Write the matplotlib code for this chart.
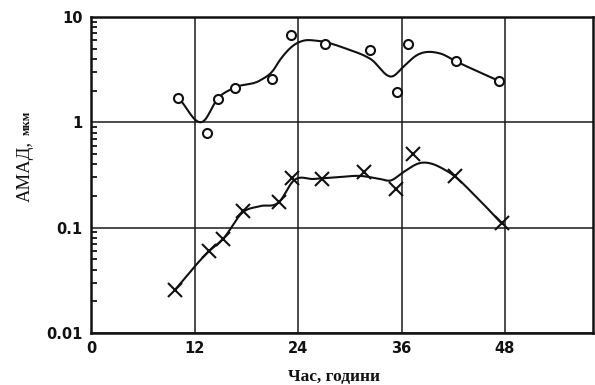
import numpy as np
import matplotlib
matplotlib.use("Agg")
import matplotlib.pyplot as plt
from matplotlib.ticker import FixedLocator, LogLocator, NullFormatter

# measured points: open circles (upper series) and crosses (lower series)
circle_hours = [10.1, 13.4, 14.7, 16.7, 21.0, 23.2, 27.1, 32.3, 35.5, 36.7, 42.3, 47.3]
circle_amad = [1.72, 0.80, 1.68, 2.14, 2.57, 6.8, 5.57, 4.9, 1.94, 5.6, 3.8, 2.47]

cross_hours = [9.7, 13.7, 15.3, 17.6, 21.8, 23.3, 26.8, 31.6, 35.4, 37.3, 42.2, 47.6]
cross_amad = [0.0255, 0.060, 0.078, 0.145, 0.175, 0.297, 0.29, 0.336, 0.233, 0.50, 0.31, 0.11]

# hand-drawn trend lines through each series
trend1_hours = [10.1, 13.0, 14.7, 16.7, 19.6, 21.1, 21.9, 23.65, 24.6, 26.2, 29.6, 32.4, 35.0, 36.2, 37.8, 40.5, 42.3, 47.3]
trend1_amad = [1.72, 1.02, 1.68, 2.14, 2.5, 3.1, 3.9, 5.5, 5.95, 5.95, 5.0, 4.0, 2.74, 3.36, 4.35, 4.5, 3.8, 2.47]

trend2_hours = [9.7, 13.7, 15.3, 17.6, 19.6, 21.8, 23.5, 25.8, 28.5, 31.2, 33.5, 34.7, 36.2, 38.1, 41.4, 45.1, 47.6]
trend2_amad = [0.0255, 0.060, 0.078, 0.14, 0.16, 0.175, 0.28, 0.29, 0.30, 0.31, 0.29, 0.28, 0.336, 0.41, 0.34, 0.18, 0.11]

hour_ticks = [0, 12, 24, 36, 48]
amad_ticks = [0.01, 0.1, 1, 10]
amad_labels = ["0.01", "0.1", "1", "10"]


def smooth(xs, ys, n=20):
    # Catmull-Rom style cubic through the knots, done in log space
    x = np.asarray(xs, float)
    y = np.log10(np.asarray(ys, float))
    m = np.gradient(y, x)
    out_x, out_y = [], []
    for i in range(len(x) - 1):
        h = x[i + 1] - x[i]
        t = np.linspace(0, 1, n, endpoint=False)
        h00 = 2 * t**3 - 3 * t**2 + 1
        h10 = t**3 - 2 * t**2 + t
        h01 = -2 * t**3 + 3 * t**2
        h11 = t**3 - t**2
        out_x.append(x[i] + t * h)
        out_y.append(h00 * y[i] + h10 * h * m[i] + h01 * y[i + 1] + h11 * h * m[i + 1])
    out_x.append([x[-1]])
    out_y.append([y[-1]])
    return np.concatenate(out_x), 10 ** np.concatenate(out_y)


fig = plt.figure(figsize=(5.95, 3.85), dpi=100)
ax = fig.add_axes([91 / 595, 52 / 385, 502 / 595, 316 / 385])

ax.set_yscale("log")
ax.set_xlim(0, 58.2)
ax.set_ylim(0.01, 10)

ax.xaxis.set_major_locator(FixedLocator(hour_ticks))
ax.yaxis.set_major_locator(FixedLocator(amad_ticks))
ax.yaxis.set_minor_locator(LogLocator(base=10, subs=np.arange(2, 10)))
ax.yaxis.set_minor_formatter(NullFormatter())
ax.set_xticklabels([str(h) for h in hour_ticks])
ax.set_yticklabels(amad_labels)

ax.grid(True, which="major", color="#1a1a1a", linewidth=1.1)
ax.set_axisbelow(True)

for sp in ax.spines.values():
    sp.set_linewidth(1.8)
    sp.set_color("#111111")

ax.tick_params(axis="x", length=0, pad=6)
ax.tick_params(axis="y", which="major", direction="in", length=0, pad=6)
ax.tick_params(axis="y", which="minor", direction="in", length=4, width=1.2)

for lab in ax.get_xticklabels() + ax.get_yticklabels():
    lab.set_fontfamily("DejaVu Sans")
    lab.set_fontweight("bold")
    lab.set_fontsize(10.5)
    lab.set_color("#111111")

tx, ty = smooth(trend1_hours, trend1_amad)
ax.plot(tx, ty, color="#111111", linewidth=1.5, zorder=3)
tx, ty = smooth(trend2_hours, trend2_amad)
ax.plot(tx, ty, color="#111111", linewidth=1.5, zorder=3)

ax.plot(circle_hours, circle_amad, linestyle="none", marker="o", markersize=6.5,
        markerfacecolor="white", markeredgecolor="#111111", markeredgewidth=1.5, zorder=4)
ax.plot(cross_hours, cross_amad, linestyle="none", marker="x", markersize=10,
        markeredgecolor="#111111", markeredgewidth=1.5, zorder=4)

fig.text(334 / 595, 4 / 385, "Час, години", ha="center", va="baseline",
         fontfamily="Liberation Serif", fontweight="bold", fontsize=12.5, color="#111111")
fig.text(25 / 595, 1 - 172 / 385, "АМАД,", ha="center", va="center", rotation=90,
         fontfamily="Liberation Serif", fontsize=13.5, color="#111111")
fig.text(27 / 595, 1 - 123 / 385, "мкм", ha="center", va="center", rotation=90,
         fontfamily="Liberation Serif", fontweight="bold", fontsize=9, color="#111111")

fig.savefig("out.png", dpi=100)
